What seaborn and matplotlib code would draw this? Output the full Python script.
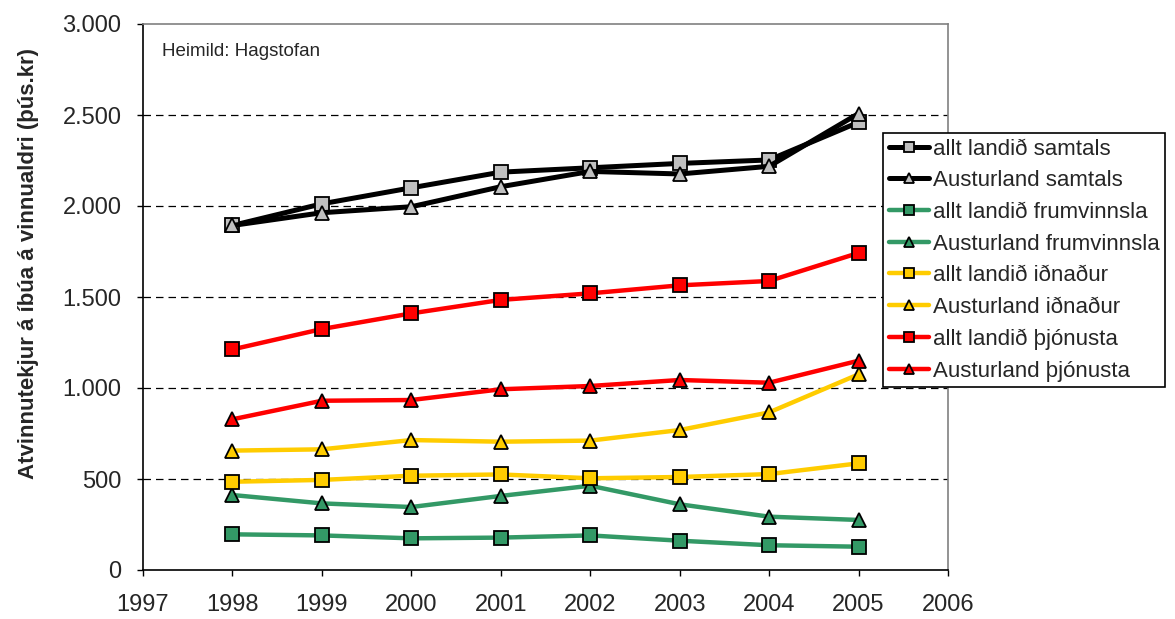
import matplotlib
matplotlib.use("Agg")
import matplotlib.pyplot as plt
import matplotlib.ticker as mticker
import seaborn as sns
import pandas as pd

years = [1998, 1999, 2000, 2001, 2002, 2003, 2004, 2005]

allt_samtals = [1893, 2012, 2100, 2186, 2210, 2234, 2253, 2460]
aust_samtals = [1893, 1963, 1996, 2106, 2190, 2176, 2218, 2508]
allt_frumv = [196, 190, 174, 178, 190, 161, 136, 128]
aust_frumv = [412, 366, 346, 407, 463, 361, 293, 275]
allt_idn = [485, 495, 518, 525, 504, 511, 527, 586]
aust_idn = [656, 663, 714, 705, 711, 769, 866, 1075]
allt_thjon = [1212, 1324, 1410, 1484, 1520, 1564, 1588, 1742]
aust_thjon = [828, 930, 934, 993, 1011, 1044, 1029, 1150]

labels = ["allt landið samtals", "Austurland samtals",
          "allt landið frumvinnsla", "Austurland frumvinnsla",
          "allt landið iðnaður", "Austurland iðnaður",
          "allt landið þjónusta", "Austurland þjónusta"]
values = [allt_samtals, aust_samtals, allt_frumv, aust_frumv,
          allt_idn, aust_idn, allt_thjon, aust_thjon]
line_colors = ["black", "black", "#339966", "#339966",
               "#FFCC00", "#FFCC00", "#FF0000", "#FF0000"]
face_colors = ["#C0C0C0", "#C0C0C0", "#339966", "#339966",
               "#FFCC00", "#FFCC00", "#FF0000", "#FF0000"]
markers = ["s", "^"] * 4

sns.set_style("white")
plt.rcParams["font.family"] = ["Liberation Sans", "DejaVu Sans"]

fig = plt.figure(figsize=(11.75, 6.19), dpi=100)
ax = fig.add_axes([143 / 1175, 1 - 570 / 619, (948 - 143) / 1175, (570 - 24) / 619])

for lab, vals, lc, fc, mk in zip(labels, values, line_colors, face_colors, markers):
    df = pd.DataFrame({"year": years, "value": vals})
    lw = 3.6 if lc == "black" else 3.2
    sns.lineplot(data=df, x="year", y="value", ax=ax, color=lc, lw=lw,
                 marker=mk, markersize=10, markerfacecolor=fc,
                 markeredgecolor="black", markeredgewidth=1.3, label=lab)

ax.set_xlim(1997, 2006)
ax.set_ylim(0, 3000)
ax.set_xticks(range(1997, 2007))
ax.set_yticks(range(0, 3001, 500))
ax.yaxis.set_major_formatter(mticker.FuncFormatter(lambda v, p: f"{v:,.0f}".replace(",", ".")))
ax.tick_params(axis="both", labelsize=17, direction="out", length=4.5, width=1,
               color="black", left=True, bottom=True)
ax.tick_params(axis="x", pad=13)
ax.tick_params(axis="y", pad=11)

for yv in range(500, 3000, 500):
    ax.axhline(yv, color="black", lw=0.9, ls=(0, (6, 4)), zorder=0)

ax.spines["left"].set_color("black")
ax.spines["bottom"].set_color("black")
ax.spines["top"].set_color("#808080")
ax.spines["right"].set_color("#808080")
for s in ax.spines.values():
    s.set_linewidth(1.2)

ax.set_xlabel("")
ax.set_ylabel("Atvinnutekjur á íbúa á vinnualdri (þús.kr)", fontsize=16,
              fontweight="bold")
ax.yaxis.set_label_coords(-0.129, 0.562)

fig.text(162 / 1175, 1 - 52 / 619, "Heimild: Hagstofan", fontsize=13.5,
         va="center", ha="left")

leg = ax.legend(loc="upper left", bbox_to_anchor=(883 / 1175, 1 - 133 / 619),
                bbox_transform=fig.transFigure, borderaxespad=0, fontsize=16,
                frameon=True, fancybox=False, edgecolor="black", framealpha=1,
                handlelength=1.8, handletextpad=0.2, labelspacing=0.48,
                borderpad=0.25, markerscale=0.7)
leg.get_frame().set_linewidth(1.2)

fig.savefig("out.png", dpi=100)
